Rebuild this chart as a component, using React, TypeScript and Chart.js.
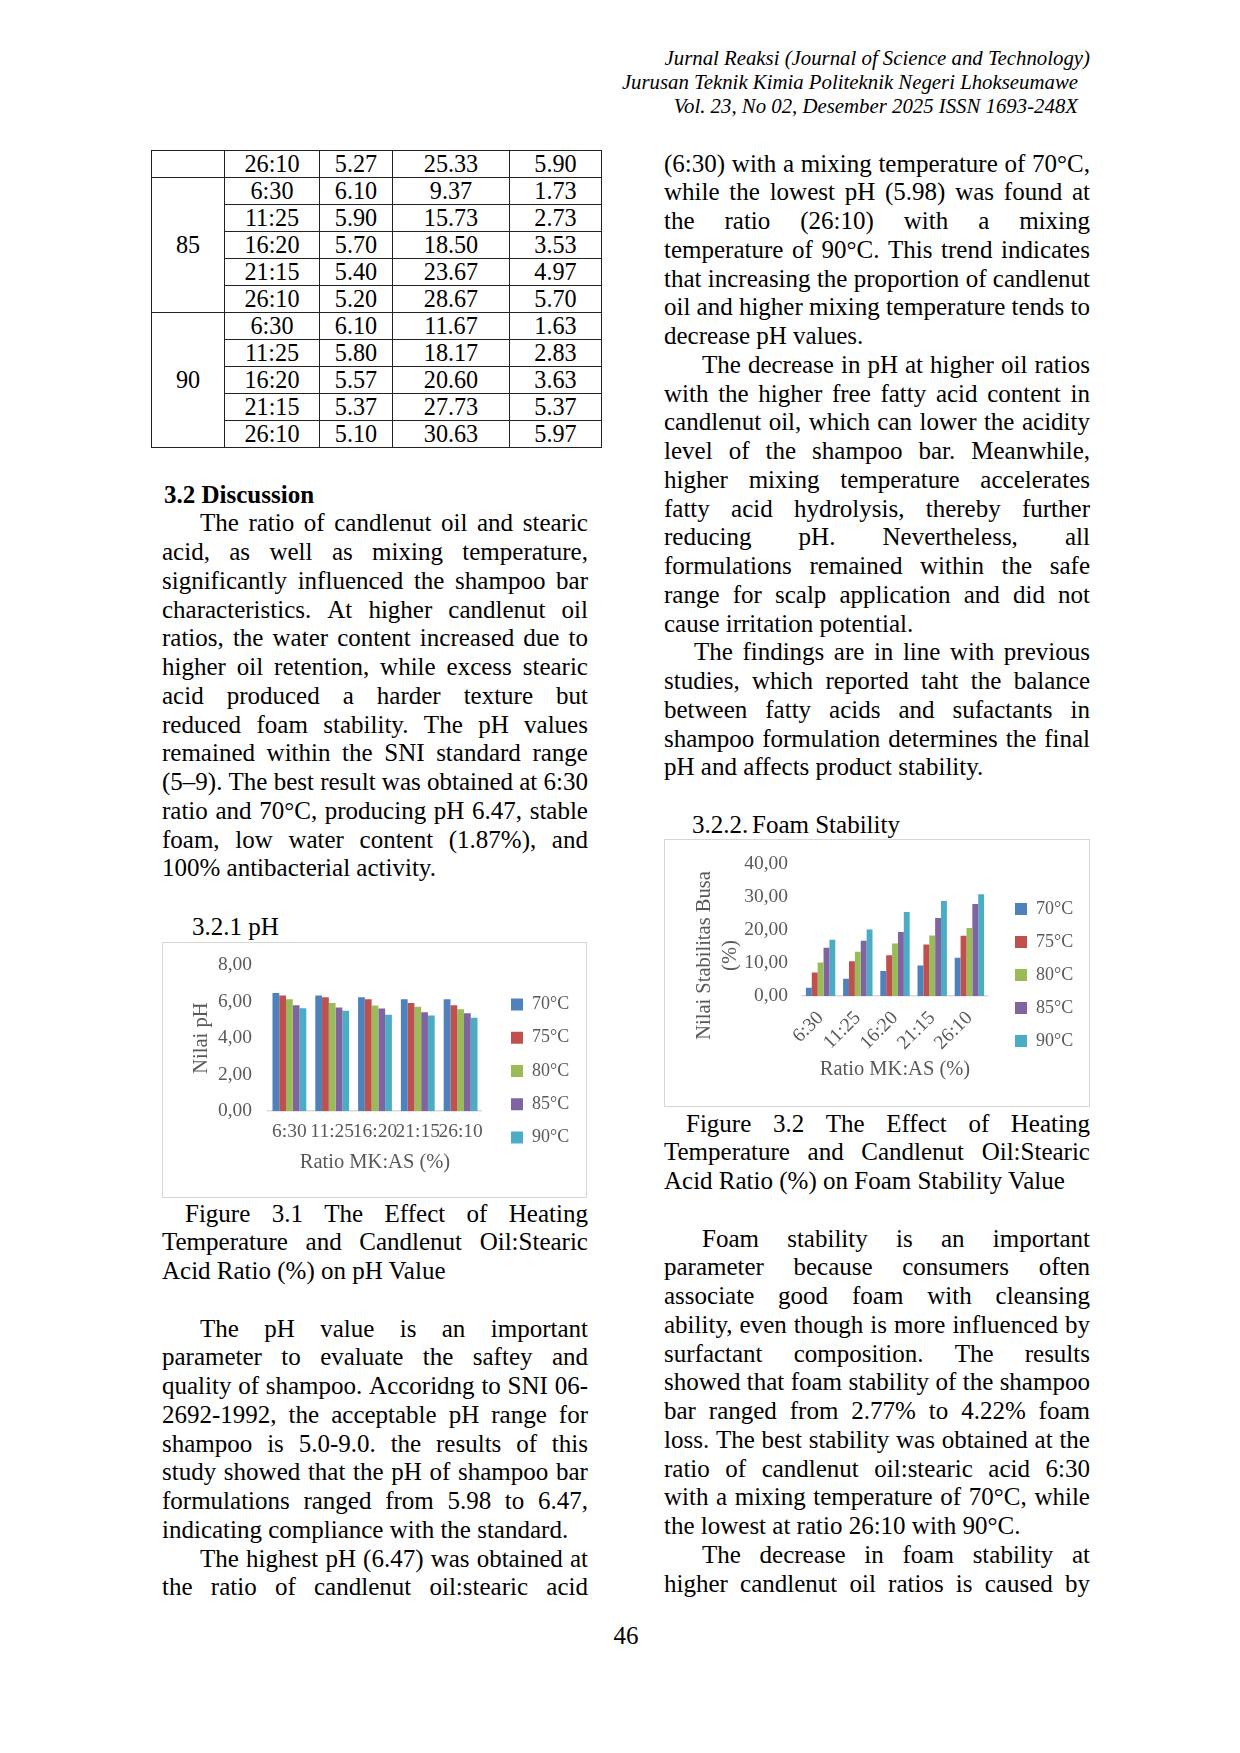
import React, { useEffect, useRef } from 'react';
import { Chart, registerables } from 'chart.js';

Chart.register(...registerables);

const SERIF = "'Liberation Serif', 'Times New Roman', serif";
const GRAY = '#595959';
const AXIS = '#d9d9d9';
const BOX = '#d6d6d6';

// ---------- chart data ----------
const ratios = ['6:30', '11:25', '16:20', '21:15', '26:10'];
const temps = ['70°C', '75°C', '80°C', '85°C', '90°C'];
const seriesColors = ['#4F81BD', '#C0504D', '#9BBB59', '#8064A2', '#4BACC6'];

const ph70 = [6.47, 6.33, 6.23, 6.12, 6.12];
const ph75 = [6.33, 6.23, 6.12, 5.92, 5.8];
const ph80 = [6.12, 5.92, 5.79, 5.71, 5.58];
const ph85 = [5.8, 5.67, 5.62, 5.41, 5.36];
const ph90 = [5.64, 5.49, 5.28, 5.23, 5.12];
const phSeries = [ph70, ph75, ph80, ph85, ph90];
const phTicks = { min: 0, max: 8, step: 2 };

const foam70 = [2.5, 5.25, 7.55, 9.25, 11.55];
const foam75 = [7.1, 10.55, 12.3, 15.6, 18.2];
const foam80 = [10.1, 13.4, 15.85, 18.3, 20.6];
const foam85 = [14.6, 16.7, 19.35, 23.6, 27.8];
const foam90 = [17.0, 20.1, 25.45, 28.75, 30.75];
const foamSeries = [foam70, foam75, foam80, foam85, foam90];
const foamTicks = { min: 0, max: 40, step: 10 };

// ---------- table data ----------
const tableTemp = ['', '85', '90'];
const tableRatio = ['26:10', '6:30', '11:25', '16:20', '21:15', '26:10', '6:30', '11:25', '16:20', '21:15', '26:10'];
const tablePH = ['5.27', '6.10', '5.90', '5.70', '5.40', '5.20', '6.10', '5.80', '5.57', '5.37', '5.10'];
const tableC3 = ['25.33', '9.37', '15.73', '18.50', '23.67', '28.67', '11.67', '18.17', '20.60', '27.73', '30.63'];
const tableC4 = ['5.90', '1.73', '2.73', '3.53', '4.97', '5.70', '1.63', '2.83', '3.63', '5.37', '5.97'];
const colWidths = [73, 95, 73, 117, 92];

const comma = (v: any) => Number(v).toFixed(2).replace('.', ',');
const NB = '\u00A0'.repeat(10);

function buildDatasets(series: number[][]) {
  return temps.map((t, i) => ({
    label: t,
    data: series[i],
    backgroundColor: seriesColors[i],
    borderWidth: 0,
    categoryPercentage: 0.79,
    barPercentage: 1,
  }));
}

function gapAxis(w: number): any {
  return {
    type: 'linear',
    position: 'right',
    display: true,
    grid: { display: false, drawTicks: false },
    border: { display: false },
    ticks: { display: false },
    afterFit: (s: any) => { s.width = w; },
  };
}

function legendOpts(pad: number): any {
  return {
    position: 'right',
    align: 'center',
    maxWidth: 200,
    labels: { boxWidth: 12, boxHeight: 12, padding: pad, color: GRAY, font: { family: SERIF, size: 18 } },
  };
}

function phConfig(): any {
  return {
    type: 'bar',
    data: { labels: ratios, datasets: buildDatasets(phSeries) },
    options: {
      animation: false,
      responsive: false,
      events: [],
      layout: { padding: { left: 6, top: 22, right: 6.8, bottom: 20 } },
      plugins: { legend: legendOpts(15.3), tooltip: { enabled: false } },
      scales: {
        x: {
          grid: { display: false, drawTicks: false },
          border: { display: true, color: AXIS, width: 1.5 },
          ticks: { color: GRAY, font: { family: SERIF, size: 19.5 }, padding: 8.8, maxRotation: 0, minRotation: 0, autoSkip: false },
          title: { display: true, text: 'Ratio MK:AS (%)', color: GRAY, font: { family: SERIF, size: 20.5 }, padding: { top: 0, bottom: 2 } },
          afterFit: (s: any) => { s.height = 65.8; },
        },
        y: {
          min: phTicks.min,
          max: phTicks.max,
          grid: { display: false, drawTicks: false },
          border: { display: false },
          ticks: { stepSize: phTicks.step, color: GRAY, font: { family: SERIF, size: 19.5 }, padding: 16, callback: comma },
          title: { display: true, text: 'Nilai pH', color: GRAY, font: { family: SERIF, size: 20.5 }, padding: { top: 20.7, bottom: 3.6 } },
          afterFit: (s: any) => { s.width = 99; s.paddingTop = 0; s.paddingBottom = 0; },
        },
        gap: gapAxis(13.7),
      },
    },
  };
}

function foamConfig(): any {
  return {
    type: 'bar',
    data: { labels: ratios, datasets: buildDatasets(foamSeries) },
    options: {
      animation: false,
      responsive: false,
      events: [],
      layout: { padding: { left: 4, top: 23.8, right: 5.8, bottom: 19.8 } },
      plugins: { legend: legendOpts(15), tooltip: { enabled: false } },
      scales: {
        x: {
          grid: { display: false, drawTicks: false },
          border: { display: true, color: AXIS, width: 1.5 },
          ticks: { color: GRAY, font: { family: SERIF, size: 19.5 }, padding: 10.7, maxRotation: 45, minRotation: 45, autoSkip: false },
          title: { display: true, text: 'Ratio MK:AS (%)', color: GRAY, font: { family: SERIF, size: 20.5 }, padding: { top: 0, bottom: 3.9 } },
          afterFit: (s: any) => { s.height = 90.2; },
        },
        y: {
          min: foamTicks.min,
          max: foamTicks.max,
          grid: { display: false, drawTicks: false },
          border: { display: false },
          ticks: { stepSize: foamTicks.step, color: GRAY, font: { family: SERIF, size: 19.5 }, padding: 14, callback: comma },
          title: {
            display: true,
            text: ['Nilai Stabilitas Busa' + NB, '(%)' + NB],
            color: GRAY,
            font: { family: SERIF, size: 20.5, lineHeight: 1.25 },
            padding: { top: 23.2, bottom: 0 },
          },
          afterFit: (s: any) => { s.width = 133; s.paddingTop = 0; s.paddingBottom = 0; },
        },
        gap: gapAxis(12),
      },
    },
  };
}

function ChartBox({ left, top, width, height, build }: any) {
  const ref = useRef<HTMLCanvasElement>(null);
  useEffect(() => {
    const chart = new Chart(ref.current as HTMLCanvasElement, build());
    return () => chart.destroy();
  }, []);
  return (
    <div style={{ position: 'absolute', left, top, width, height, border: `1px solid ${BOX}`, boxSizing: 'border-box', background: '#fff' }}>
      <canvas ref={ref} width={width - 2} height={height - 2} style={{ position: 'absolute', left: 0, top: 0, width: width - 2, height: height - 2 }} />
    </div>
  );
}

// ---------- page text ----------
const LH = 28.75;
const FS = 25;

function Line({ x, y, w, text, justify, bold }: any) {
  const base: any = {
    position: 'absolute',
    left: x,
    top: y - LH / 2,
    height: LH,
    lineHeight: `${LH}px`,
    fontSize: FS,
    fontWeight: bold ? 'bold' : 'normal',
    whiteSpace: 'nowrap',
  };
  if (justify) {
    const words = text.split(' ');
    return (
      <div style={{ ...base, width: w, display: 'flex', justifyContent: 'space-between' }}>
        {words.map((wd: string, i: number) => <span key={i}>{wd}</span>)}
      </div>
    );
  }
  return <div style={base}>{text}</div>;
}

function Para({ x, y, w, lines, indent = 0, lastJustify = false }: any) {
  return (
    <>
      {lines.map((t: string, i: number) => {
        const ind = i === 0 ? indent : 0;
        const just = i < lines.length - 1 || lastJustify;
        return <Line key={i} x={x + ind} y={y + i * LH} w={w - ind} text={t} justify={just} />;
      })}
    </>
  );
}

const LX = 162, LW = 426, RX = 664, RW = 426;

const discussion = [
  'The ratio of candlenut oil and stearic',
  'acid, as well as mixing temperature,',
  'significantly influenced the shampoo bar',
  'characteristics. At higher candlenut oil',
  'ratios, the water content increased due to',
  'higher oil retention, while excess stearic',
  'acid produced a harder texture but',
  'reduced foam stability. The pH values',
  'remained within the SNI standard range',
  '(5–9). The best result was obtained at 6:30',
  'ratio and 70°C, producing pH 6.47, stable',
  'foam, low water content (1.87%), and',
  '100% antibacterial activity.',
];
const cap1 = ['Figure 3.1 The Effect of Heating', 'Temperature and Candlenut Oil:Stearic', 'Acid Ratio (%) on pH Value'];
const phPara = [
  'The pH value is an important',
  'parameter to evaluate the saftey and',
  'quality of shampoo. Accoridng to SNI 06-',
  '2692-1992, the acceptable pH range for',
  'shampoo is 5.0-9.0. the results of this',
  'study showed that the pH of shampoo bar',
  'formulations ranged from 5.98 to 6.47,',
  'indicating compliance with the standard.',
];
const highest = ['The highest pH (6.47) was obtained at', 'the ratio of candlenut oil:stearic acid'];
const rPara1 = [
  '(6:30) with a mixing temperature of 70°C,',
  'while the lowest pH (5.98) was found at',
  'the ratio (26:10) with a mixing',
  'temperature of 90°C. This trend indicates',
  'that increasing the proportion of candlenut',
  'oil and higher mixing temperature tends to',
  'decrease pH values.',
];
const rPara2 = [
  'The decrease in pH at higher oil ratios',
  'with the higher free fatty acid content in',
  'candlenut oil, which can lower the acidity',
  'level of the shampoo bar. Meanwhile,',
  'higher mixing temperature accelerates',
  'fatty acid hydrolysis, thereby further',
  'reducing pH. Nevertheless, all',
  'formulations remained within the safe',
  'range for scalp application and did not',
  'cause irritation potential.',
];
const rPara3 = [
  'The findings are in line with previous',
  'studies, which reported taht the balance',
  'between fatty acids and sufactants in',
  'shampoo formulation determines the final',
  'pH and affects product stability.',
];
const cap2 = ['Figure 3.2 The Effect of Heating', 'Temperature and Candlenut Oil:Stearic', 'Acid Ratio (%) on Foam Stability Value'];
const foamPara = [
  'Foam stability is an important',
  'parameter because consumers often',
  'associate good foam with cleansing',
  'ability, even though is more influenced by',
  'surfactant composition. The results',
  'showed that foam stability of the shampoo',
  'bar ranged from 2.77% to 4.22% foam',
  'loss. The best stability was obtained at the',
  'ratio of candlenut oil:stearic acid 6:30',
  'with a mixing temperature of 70°C, while',
  'the lowest at ratio 26:10 with 90°C.',
];
const decrease = ['The decrease in foam stability at', 'higher candlenut oil ratios is caused by'];

function DataTable() {
  const td: any = {
    border: '1.4px solid #222',
    padding: 0,
    height: 26,
    lineHeight: '26px',
    textAlign: 'center',
    verticalAlign: 'middle',
  };
  return (
    <table style={{ position: 'absolute', left: 151, top: 150, borderCollapse: 'collapse', tableLayout: 'fixed', width: 450, fontSize: 24.2, fontFamily: SERIF }}>
      <colgroup>
        {colWidths.map((w, i) => <col key={i} style={{ width: w }} />)}
      </colgroup>
      <tbody>
        {tableRatio.map((r, i) => (
          <tr key={i}>
            {i === 0 && <td style={td}>{tableTemp[0]}</td>}
            {i === 1 && <td style={td} rowSpan={5}>{tableTemp[1]}</td>}
            {i === 6 && <td style={td} rowSpan={5}>{tableTemp[2]}</td>}
            <td style={td}>{r}</td>
            <td style={td}>{tablePH[i]}</td>
            <td style={td}>{tableC3[i]}</td>
            <td style={td}>{tableC4[i]}</td>
          </tr>
        ))}
      </tbody>
    </table>
  );
}

export default function App() {
  const hdr: any = { position: 'absolute', fontStyle: 'italic', fontSize: 20.8, lineHeight: '24px', whiteSpace: 'nowrap', textAlign: 'right' };
  return (
    <div style={{ position: 'absolute', left: 0, top: 0, width: 1240, height: 1753, background: '#fff', fontFamily: SERIF, color: '#000', overflow: 'hidden' }}>
      <div style={{ ...hdr, right: 1240 - 1090, top: 46 }}>Jurnal Reaksi (Journal of Science and Technology)</div>
      <div style={{ ...hdr, right: 1240 - 1078, top: 70 }}>Jurusan Teknik Kimia Politeknik Negeri Lhokseumawe</div>
      <div style={{ ...hdr, right: 1240 - 1078, top: 94 }}>Vol. 23, No 02, Desember 2025 ISSN 1693-248X</div>

      <DataTable />

      {/* left column */}
      <Line x={164} y={495} text="3.2 Discussion" bold />
      <Para x={LX} y={495 + LH} w={LW} lines={discussion} indent={38} />
      <Line x={192} y={927} text="3.2.1 pH" />
      <ChartBox left={162} top={942} width={425} height={256} build={phConfig} />
      <Para x={LX} y={1214} w={LW} lines={cap1} indent={23} />
      <Para x={LX} y={1329} w={LW} lines={phPara} indent={38} />
      <Para x={LX} y={1329 + 8 * LH} w={LW} lines={highest} indent={38} lastJustify />

      {/* right column */}
      <Para x={RX} y={164} w={RW} lines={rPara1} />
      <Para x={RX} y={164 + 7 * LH} w={RW} lines={rPara2} indent={38} />
      <Para x={RX} y={164 + 17 * LH} w={RW} lines={rPara3} indent={30} />
      <Line x={692} y={825} text="3.2.2." />
      <Line x={752} y={825} text="Foam Stability" />
      <ChartBox left={664} top={839} width={426} height={268} build={foamConfig} />
      <Para x={RX} y={1124} w={RW} lines={cap2} indent={22} />
      <Para x={RX} y={1239} w={RW} lines={foamPara} indent={38} />
      <Para x={RX} y={1239 + 11 * LH} w={RW} lines={decrease} indent={38} lastJustify />

      <div style={{ position: 'absolute', left: 576, width: 100, top: 1636 - 14, lineHeight: '28px', fontSize: FS, textAlign: 'center' }}>46</div>
    </div>
  );
}
